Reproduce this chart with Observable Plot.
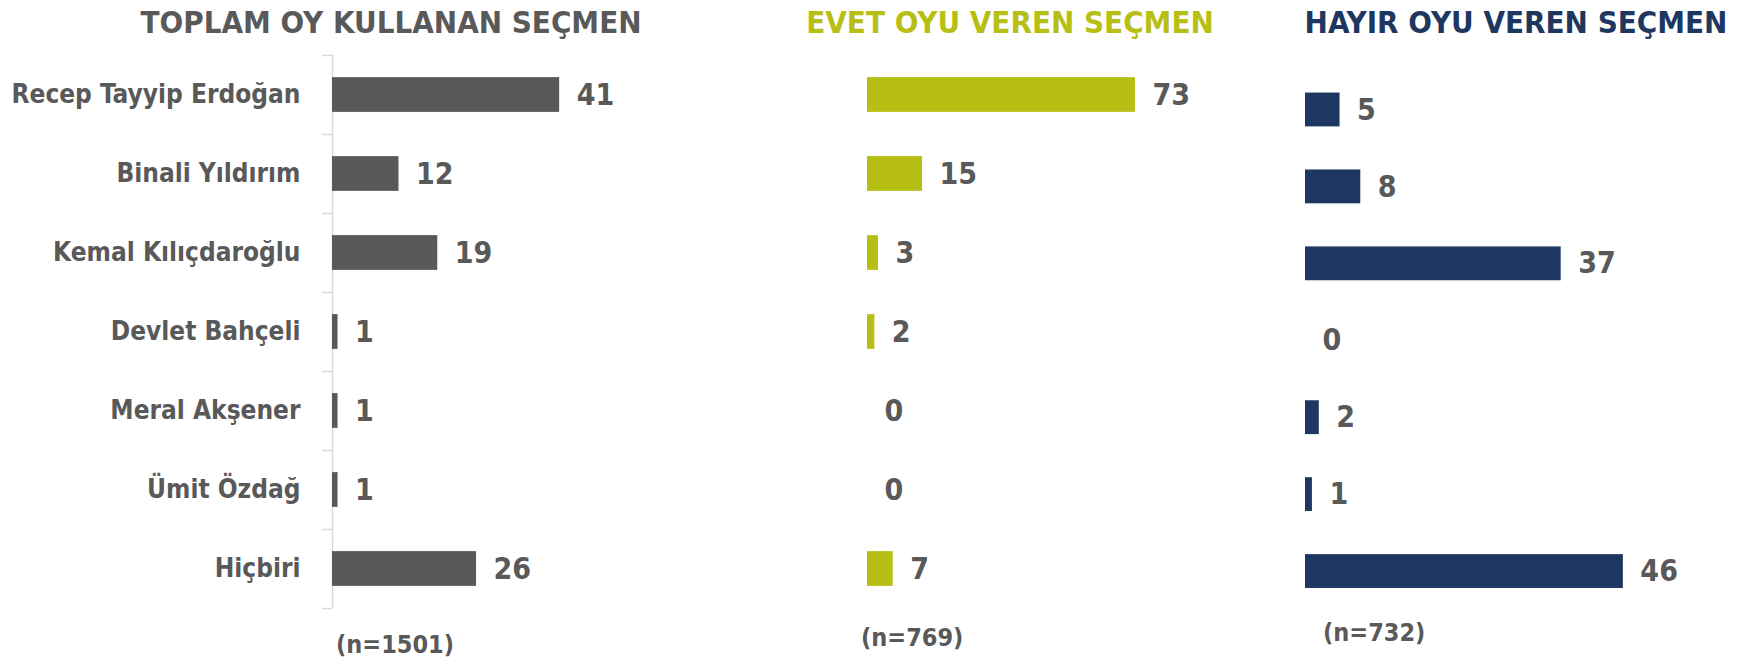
<!DOCTYPE html>
<html>
<head>
<meta charset="utf-8">
<script src="https://cdn.jsdelivr.net/npm/d3@7"></script>
<script src="https://cdn.jsdelivr.net/npm/@observablehq/plot@0.6"></script>
<style>
  html, body { margin: 0; padding: 0; background: #fff; }
  #wrap { position: relative; width: 1754px; height: 659px; overflow: hidden;
          font-family: "Liberation Sans Narrow", "DejaVu Sans Condensed", sans-serif; font-weight: bold; }
  .panel { position: absolute; top: 0; }
  .title { position: absolute; white-space: nowrap; transform: translateX(-50%); font-size: 31px; line-height: 44px; }
  .note { position: absolute; white-space: nowrap; font-size: 25px; line-height: 28px; color: #595959; }
</style>
</head>
<body>
<div id="wrap"></div>
<script>
// ---- data ----
const categories = ["Recep Tayyip Erdoğan", "Binali Yıldırım", "Kemal Kılıçdaroğlu", "Devlet Bahçeli", "Meral Akşener", "Ümit Özdağ", "Hiçbiri"];
const toplamValues = [41, 12, 19, 1, 1, 1, 26];
const evetValues = [73, 15, 3, 2, 0, 0, 7];
const hayirValues = [5, 8, 37, 0, 2, 1, 46];
const panelTitles = ["TOPLAM OY KULLANAN SEÇMEN", "EVET OYU VEREN SEÇMEN", "HAYIR OYU VEREN SEÇMEN"];
const sampleSizes = ["(n=1501)", "(n=769)", "(n=732)"];

// ---- styling / layout ----
const FONT = '"Liberation Sans Narrow", "DejaVu Sans Condensed", sans-serif';
const GRAY = "#595959";
const panels = [
  {values: toplamValues, color: "#595959", titleColor: "#595959", left: 0, width: 700, marginLeft: 332, pxPerUnit: 5.54, marginTop: 55, marginBottom: 51, axis: true,
   titleX: 391, noteX: 336, noteY: 631},
  {values: evetValues, color: "#B7BF14", titleColor: "#B7BF14", left: 700, width: 540, marginLeft: 167, pxPerUnit: 3.67, marginTop: 55, marginBottom: 51, axis: false,
   titleX: 1010, noteX: 861, noteY: 624},
  {values: hayirValues, color: "#1E3760", titleColor: "#1E3760", left: 1240, width: 514, marginLeft: 65, pxPerUnit: 6.91, marginTop: 71, marginBottom: 49.5, axis: false,
   titleX: 1516, noteX: 1323, noteY: 619}
];

const wrap = document.getElementById("wrap");

panels.forEach((p, k) => {
  const rows = categories.map((c, i) => ({category: c, index: i, value: p.values[i]}));
  const marks = [];
  if (p.axis) {
    marks.push(Plot.ruleX([0], {stroke: "#d9d9d9", strokeWidth: 1.5}));
    marks.push(Plot.axisY({ticks: d3.range(categories.length + 1), tickSize: 10, tickFormat: () => "", stroke: "#d9d9d9", strokeWidth: 1.5}));
    marks.push(Plot.axisY({ticks: categories.map((c, i) => i + 0.5), tickSize: 0, tickPadding: 32,
      tickFormat: t => categories[Math.floor(t)], fontSize: 26, fill: GRAY}));
  }
  marks.push(Plot.rectX(rows, {x: "value", y1: d => d.index + 0.28, y2: d => d.index + 0.72, fill: p.color}));
  marks.push(Plot.text(rows, {x: "value", y: d => d.index + 0.5, text: d => String(d.value), textAnchor: "start", dx: 17,
    fontSize: 30, fill: GRAY}));

  const chart = Plot.plot({
    width: p.width,
    height: 659,
    marginLeft: p.marginLeft,
    marginRight: 0,
    marginTop: p.marginTop,
    marginBottom: p.marginBottom,
    style: {background: "transparent", fontFamily: FONT, fontWeight: "bold", overflow: "visible"},
    x: {domain: [0, 100], range: [p.marginLeft, p.marginLeft + 100 * p.pxPerUnit], axis: null},
    y: {domain: [0, categories.length], reverse: true, axis: null},
    marks
  });
  const holder = document.createElement("div");
  holder.className = "panel";
  holder.style.left = p.left + "px";
  holder.appendChild(chart);
  wrap.appendChild(holder);

  const t = document.createElement("div");
  t.className = "title";
  t.style.left = p.titleX + "px";
  t.style.top = "0px";
  t.style.color = p.titleColor;
  t.textContent = panelTitles[k];
  wrap.appendChild(t);

  const n = document.createElement("div");
  n.className = "note";
  n.style.left = p.noteX + "px";
  n.style.top = p.noteY + "px";
  n.textContent = sampleSizes[k];
  wrap.appendChild(n);
});
</script>
</body>
</html>
